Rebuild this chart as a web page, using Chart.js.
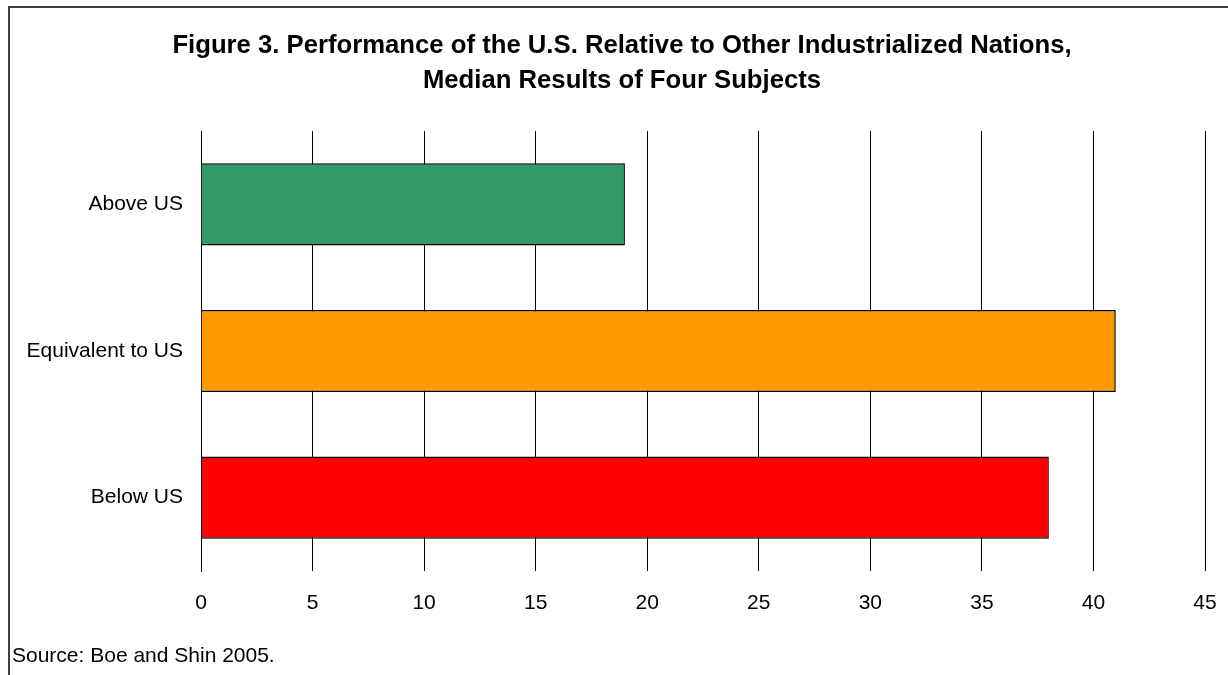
<!DOCTYPE html>
<html>
<head>
<meta charset="utf-8">
<script src="https://cdn.jsdelivr.net/npm/chart.js@4.4.1/dist/chart.umd.min.js"></script>
<style>
  html, body { margin: 0; padding: 0; background: #ffffff; }
  #wrap { width: 1228px; height: 675px; position: relative; }
  canvas { display: block; }
</style>
</head>
<body>
<div id="wrap"><canvas id="c" width="1228" height="675"></canvas></div>
<script>
const categories = ['Above US', 'Equivalent to US', 'Below US'];
const values = [19, 41, 38];
const barColors = ['#339966', '#FF9900', '#FF0000'];
const xMin = 0;
const xMax = 45;
const xStep = 5;
const titleLines = [
  'Figure 3. Performance of the U.S. Relative to Other Industrialized Nations,',
  'Median Results of Four Subjects'
];
const sourceNote = 'Source: Boe and Shin 2005.';

const FONT = "'Liberation Sans', Arial, Helvetica, sans-serif";

const frameTitleSource = {
  id: 'frameTitleSource',
  afterDraw(chart) {
    const ctx = chart.ctx;
    ctx.save();
    // outer frame (left and top edges visible)
    ctx.strokeStyle = '#404040';
    ctx.lineWidth = 2;
    ctx.beginPath();
    ctx.moveTo(9, 680);
    ctx.lineTo(9, 7);
    ctx.lineTo(1235, 7);
    ctx.stroke();
    // title
    ctx.fillStyle = '#000';
    ctx.font = 'bold 25.7px ' + FONT;
    ctx.textAlign = 'center';
    ctx.textBaseline = 'middle';
    titleLines.forEach((line, i) => ctx.fillText(line, 622, 46 + i * 35));
    // source note
    ctx.font = '21px ' + FONT;
    ctx.textAlign = 'left';
    ctx.fillText(sourceNote, 12, 656);
    ctx.restore();
  }
};

new Chart(document.getElementById('c'), {
  type: 'bar',
  data: {
    labels: categories,
    datasets: [{
      data: values,
      backgroundColor: barColors,
      borderColor: '#000000',
      borderWidth: 1.5,
      barPercentage: 0.56,
      categoryPercentage: 1.0
    }]
  },
  options: {
    indexAxis: 'y',
    responsive: false,
    animation: false,
    devicePixelRatio: 1,
    layout: { padding: { left: 0, right: 23, top: 131, bottom: 0 } },
    plugins: {
      legend: { display: false },
      tooltip: { enabled: false },
      title: { display: false }
    },
    scales: {
      x: {
        type: 'linear',
        min: xMin,
        max: xMax,
        ticks: {
          stepSize: xStep,
          color: '#000',
          font: { family: FONT, size: 21 },
          padding: 20
        },
        grid: { color: '#000', lineWidth: 1, drawTicks: false },
        border: { display: false },
        afterFit(scale) {
          scale.height = 104;
          scale.paddingLeft = 0;
          scale.paddingRight = 0;
        }
      },
      y: {
        ticks: {
          color: '#000',
          font: { family: FONT, size: 21 },
          padding: 18
        },
        grid: { display: false, drawTicks: false },
        border: { display: true, color: '#000', width: 1 },
        afterFit(scale) {
          scale.width = 201;
          scale.paddingTop = 0;
          scale.paddingBottom = 0;
        }
      }
    }
  },
  plugins: [frameTitleSource]
});
</script>
</body>
</html>
